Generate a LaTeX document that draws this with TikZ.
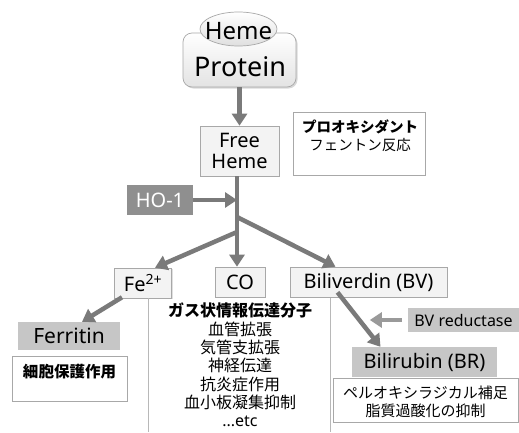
\documentclass[tikz,border=0pt]{standalone}
\usepackage{fontspec}
\setmainfont{Noto Sans}
\newfontfamily\jp{Noto Sans CJK JP}
\usetikzlibrary{arrows.meta,shadows,shapes.geometric}
\definecolor{arr}{HTML}{7A7A7A}
\definecolor{arrl}{HTML}{9A9A9A}
\definecolor{boxfill}{HTML}{F3F3F3}
\definecolor{boxdraw}{HTML}{A8A8A8}
\definecolor{midgray}{HTML}{C6C6C6}
\definecolor{darkgray2}{HTML}{8F8F8F}
\definecolor{sep}{HTML}{B8B8B8}
\tikzset{
  flow/.style={draw=arr, line width=4.5pt, -{Triangle[width=15pt,length=12pt]}},
  flowlight/.style={draw=arrl, line width=4.5pt, -{Triangle[width=15pt,length=12pt]}},
  plainbox/.style={draw=boxdraw, fill=boxfill, line width=0.6pt, inner sep=0pt, align=center,
     drop shadow={shadow xshift=1pt, shadow yshift=-1pt, opacity=0.25}},
  graybox/.style={fill=midgray, inner sep=0pt, align=center},
  textbox/.style={draw=boxdraw, fill=white, line width=0.6pt, inner sep=0pt},
  jtext/.style={font=\jp\fontsize{15}{18.5}\selectfont, align=center, inner sep=0pt},
  sepline/.style={draw=sep, line width=0.6pt}
}
\begin{document}
\begin{tikzpicture}[x=1pt,y=-1pt]
\useasboundingbox (0,0) rectangle (519,432);
\fill[white] (0,0) rectangle (519,432);

% Heme Protein
\node[draw=boxdraw, rounded corners=9pt, top color=white, bottom color=gray!22, line width=0.7pt,
      minimum width=113pt, minimum height=54pt, inner sep=0pt,
      drop shadow={shadow xshift=1.5pt, shadow yshift=-1.5pt, opacity=0.3}]
      (hp) at (239.5,60) {};
\node[font=\fontsize{27}{30}\selectfont, inner sep=0pt] (prot) at (240,67) {Protein};
\node[ellipse, draw=boxdraw, top color=white, bottom color=gray!25, line width=0.7pt,
      minimum width=77pt, minimum height=34pt, inner sep=0pt]
      (heme) at (238.5,29) {};
\node[font=\fontsize{24}{26}\selectfont, inner sep=0pt] (hemetxt) at (238.5,31) {Heme};

% Free Heme
\node[plainbox, minimum width=79pt, minimum height=50pt, font=\fontsize{20}{21}\selectfont]
      (fh) at (239.5,151) {Free\\Heme};

% Prooxidant box
\node[textbox, minimum width=132pt, minimum height=63pt] (pro) at (359,143.5) {};
\node[jtext, font=\jp\bfseries\fontsize{14.5}{17}\selectfont] (pro1) at (360,127) {プロオキシダント};
\node[jtext, font=\jp\fontsize{14.5}{17}\selectfont] (pro2) at (360,145) {フェントン反応};

% HO-1
\node[fill=darkgray2, text=white, minimum width=66pt, minimum height=30pt, inner sep=0pt,
      font=\fontsize{20}{22}\selectfont] (ho) at (160,200) {HO-1};

% junctions
\coordinate (j1) at (237,200);
\coordinate (jR) at (237,217);
\coordinate (jL) at (237,232);

% products
\node[plainbox, minimum width=57pt, minimum height=30pt, font=\fontsize{20}{22}\selectfont]
      (fe) at (143,283) {Fe\textsuperscript{2+}};
\node[plainbox, minimum width=50pt, minimum height=30pt, font=\fontsize{20}{22}\selectfont]
      (co) at (240,282) {CO};
\node[plainbox, minimum width=157pt, minimum height=30pt, font=\fontsize{20}{22}\selectfont]
      (bv) at (368.5,282) {Biliverdin (BV)};

% separators
\coordinate (s1a) at (148,298); \coordinate (s1b) at (148,432);
\coordinate (s2a) at (330,298); \coordinate (s2b) at (330,432);
\draw[sepline] (s1a) -- (s1b);
\draw[sepline] (s2a) -- (s2b);

% Ferritin
\node[graybox, minimum width=102pt, minimum height=28pt, font=\fontsize{21}{23}\selectfont]
      (fer) at (69,336) {Ferritin};
\node[textbox, minimum width=115pt, minimum height=45pt] (cp) at (69.5,378.5) {};
\node[jtext, font=\jp\bfseries\fontsize{15.5}{18}\selectfont] (cptxt) at (69.5,372) {細胞保護作用};

% CO list
\node[jtext, font=\jp\fontsize{16}{18.3}\selectfont] (colist) at (240,365)
  {{\bfseries ガス状情報伝達分子}\\血管拡張\\気管支拡張\\神経伝達\\抗炎症作用\\血小板凝集抑制\\{\rmfamily ...etc}};

% BV reductase
\node[graybox, minimum width=111pt, minimum height=24pt, font=\fontsize{16}{18}\selectfont]
      (bvr) at (463.5,320) {BV reductase};
% Bilirubin
\node[graybox, minimum width=145pt, minimum height=30pt, font=\fontsize{20}{22}\selectfont]
      (br) at (424.5,362) {Bilirubin (BR)};
\node[textbox, minimum width=185pt, minimum height=44pt] (px) at (425.5,400) {};
\node[jtext, font=\jp\fontsize{15}{18}\selectfont] (pxtxt) at (425.5,402) {ペルオキシラジカル補足\\脂質過酸化の抑制};

% arrows
\draw[flow] (hp.south) -- (fh.north);
\draw[flow] ([xshift=-2.5pt]fh.south) -- ([xshift=-3pt]co.north);
\draw[flow] (ho.east) -- (j1);
\draw[flow] (jL) -- ([xshift=12pt]fe.north);
\draw[flow] (jR) -- ([xshift=-33pt]bv.north);
\draw[flow] ([xshift=-21pt,yshift=1pt]fe.south) -- ([xshift=13pt]fer.north);
\draw[flow] ([xshift=-31pt,yshift=5pt]bv.south) -- ([xshift=-44pt]br.north);
\draw[flowlight] ([xshift=-6pt]bvr.west) -- ++(-32,0);
\end{tikzpicture}
\end{document}
